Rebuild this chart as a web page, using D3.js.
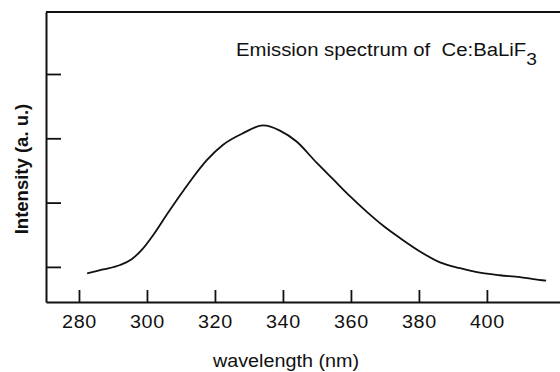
<!DOCTYPE html>
<html>
<head>
<meta charset="utf-8">
<script src="https://cdn.jsdelivr.net/npm/d3@7"></script>
<style>
  body { margin: 0; background: #fff; }
  svg { display: block; font-family: "Liberation Sans", Arial, sans-serif; }
</style>
</head>
<body>
<svg class="spectrum" width="560" height="372"></svg>
<script>
// emission spectrum of Ce:BaLiF3
var wavelength = [282.4, 287.1, 292.1, 295.5, 298.4, 301.9, 305.8, 309.7, 313.1, 317.6,
                  322.4, 328.3, 334.2, 339.1, 344.0, 349.9, 354.8, 359.7, 364.6, 369.5,
                  374.4, 380.3, 386.2, 392.1, 397.9, 403.8, 409.7, 413.6, 417.4];
var intensity = [0.90, 0.96, 1.03, 1.12, 1.26, 1.50, 1.81, 2.11, 2.36, 2.66,
                 2.90, 3.08, 3.20, 3.12, 2.95, 2.62, 2.36, 2.10, 1.86, 1.64,
                 1.45, 1.24, 1.07, 0.98, 0.91, 0.87, 0.84, 0.81, 0.785];
var xTicks = [280, 300, 320, 340, 360, 380, 400];
var yTicks = [1, 2, 3, 4];

var svg = d3.select(".spectrum"),
    stretch = 1.13; // the scan is a bit wider than it is tall

var x = d3.scaleLinear().domain([270.3, 421.5]).range([46, 560]),
    y = d3.scaleLinear().domain([0.454, 4.964]).range([302, 12]);

var data = wavelength.map(function(w, i) { return {w: w, v: intensity[i]}; });

// frame top
svg.append("line")
    .attr("x1", x.range()[0]).attr("x2", x.range()[1])
    .attr("y1", y.range()[1]).attr("y2", y.range()[1])
    .attr("stroke", "#111").attr("stroke-width", 2);

var xAxis = svg.append("g")
    .attr("transform", "translate(0," + y.range()[0] + ")")
    .call(d3.axisBottom(x).tickValues(xTicks).tickSize(-12).tickSizeOuter(0).tickPadding(14));

var yAxis = svg.append("g")
    .attr("transform", "translate(" + x.range()[0] + ",0)")
    .call(d3.axisLeft(y).tickValues(yTicks).tickSize(-15).tickSizeOuter(0).tickFormat(""));

svg.selectAll(".domain").attr("stroke", "#111").attr("stroke-width", 2);
svg.selectAll(".tick line").attr("stroke", "#111").attr("stroke-width", 1.8);

xAxis.selectAll("text")
    .attr("font-size", 17.5)
    .attr("font-family", "Liberation Sans, Arial, sans-serif")
    .attr("fill", "#111")
    .attr("letter-spacing", 0.6)
    .attr("transform", "scale(" + stretch + ",1)");

var line = d3.line()
    .x(function(d) { return x(d.w); })
    .y(function(d) { return y(d.v); })
    .curve(d3.curveMonotoneX);

svg.append("path")
    .datum(data)
    .attr("d", line)
    .attr("fill", "none")
    .attr("stroke", "#111")
    .attr("stroke-width", 1.8);

// title
var title = svg.append("text")
    .attr("transform", "translate(236,56) scale(" + stretch + ",1)")
    .attr("font-size", 18)
    .attr("fill", "#111");
title.append("tspan").text("Emission spectrum of \u00a0Ce:BaLiF");
title.append("tspan").attr("dy", 9).attr("font-size", 17).text("3");

svg.append("text")
    .attr("transform", "translate(286,367) scale(" + stretch + ",1)")
    .attr("text-anchor", "middle")
    .attr("font-size", 17.5)
    .attr("fill", "#111")
    .text("wavelength (nm)");

svg.append("text")
    .attr("transform", "translate(28,169) rotate(-90)")
    .attr("text-anchor", "middle")
    .attr("font-size", 18.5)
    .attr("font-weight", "bold")
    .attr("fill", "#111")
    .text("Intensity (a. u.)");
</script>
</body>
</html>
